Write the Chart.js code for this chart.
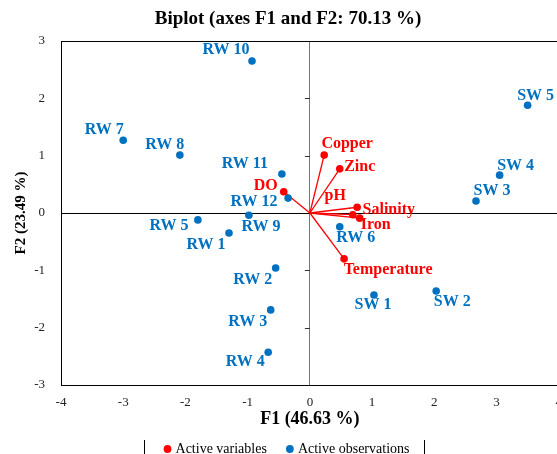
<!DOCTYPE html>
<html>
<head>
<meta charset="utf-8">
<script src="https://cdn.jsdelivr.net/npm/chart.js@4.4.0/dist/chart.umd.min.js"></script>
<style>
  html, body { margin: 0; padding: 0; background: #fff; overflow: hidden; }
  #wrap { width: 572px; height: 454px; }
</style>
</head>
<body>
<div id="wrap"><canvas id="biplot"></canvas></div>
<script>
// =================== data ===================
const obsNames = ['RW 1', 'RW 2', 'RW 3', 'RW 4', 'RW 5', 'RW 6', 'RW 7', 'RW 8', 'RW 9', 'RW 10', 'RW 11', 'RW 12',
                  'SW 1', 'SW 2', 'SW 3', 'SW 4', 'SW 5'];
const obsF1 = [-1.30, -0.55, -0.63, -0.67, -1.80, 0.48, -3.00, -2.09, -0.98, -0.93, -0.45, -0.35,
               1.03, 2.03, 2.67, 3.05, 3.50];
const obsF2 = [-0.35, -0.96, -1.69, -2.43, -0.12, -0.24, 1.27, 1.01, -0.04, 2.65, 0.68, 0.26,
               -1.43, -1.36, 0.21, 0.66, 1.88];

const varNames = ['Copper', 'Zinc', 'pH', 'Salinity', 'Iron', 'Temperature', 'DO'];
const varF1 = [0.23, 0.48, 0.76, 0.69, 0.80, 0.55, -0.42];
const varF2 = [1.01, 0.77, 0.10, -0.03, -0.09, -0.80, 0.37];

const xTicks = [-4, -3, -2, -1, 0, 1, 2, 3, 4];
const yTicks = [-3, -2, -1, 0, 1, 2, 3];

// where each label sits relative to its point (pixels)
const labelShift = {
    'RW 1': [-23, 12], 'RW 2': [-23, 12], 'RW 3': [-23, 12], 'RW 4': [-23, 10],
    'RW 5': [-29, 6], 'RW 6': [16, 11], 'RW 7': [-19, -10], 'RW 8': [-15, -10],
    'RW 9': [12, 12], 'RW 10': [-26, -11], 'RW 11': [-37, -10], 'RW 12': [-34, 4],
    'SW 1': [-1, 10], 'SW 2': [16, 11], 'SW 3': [16, -10], 'SW 4': [16, -9], 'SW 5': [8, -9],
    'Copper': [23, -11], 'Zinc': [20, -2], 'pH': [-22, -11], 'Salinity': [36, -5],
    'Iron': [16, 7], 'Temperature': [44, 11], 'DO': [-18, -6]
};
// =================================================================

const RED = '#ff0000';
const BLUE = '#0070c0';
const SERIF = "'Liberation Serif', 'Times New Roman', serif";

function toPoints(xs, ys) {
    return xs.map((x, i) => ({ x: x, y: ys[i] }));
}

// vectors from the origin, frame, small ticks on the zero axis, point labels
const biplotDecor = {
    id: 'biplotDecor',
    beforeDatasetsDraw(chart) {
        const { ctx, chartArea, scales } = chart;
        const xs = scales.x, ys = scales.y;
        const ox = xs.getPixelForValue(0), oy = ys.getPixelForValue(0);
        ctx.save();
        // top frame line
        ctx.strokeStyle = '#000';
        ctx.lineWidth = 1;
        ctx.beginPath();
        ctx.moveTo(chartArea.left, chartArea.top + 0.5);
        ctx.lineTo(chartArea.right, chartArea.top + 0.5);
        ctx.stroke();
        // small ticks on the vertical zero line
        ctx.strokeStyle = '#333';
        yTicks.forEach(v => {
            if (v === 0 || v === 3 || v === -3) return;
            const py = Math.round(ys.getPixelForValue(v)) + 0.5;
            ctx.beginPath();
            ctx.moveTo(ox - 5, py);
            ctx.lineTo(ox, py);
            ctx.stroke();
        });
        // variable vectors
        ctx.strokeStyle = RED;
        ctx.lineWidth = 1.3;
        varF1.forEach((v, i) => {
            ctx.beginPath();
            ctx.moveTo(ox, oy);
            ctx.lineTo(xs.getPixelForValue(v), ys.getPixelForValue(varF2[i]));
            ctx.stroke();
        });
        ctx.restore();
    },
    afterDatasetsDraw(chart) {
        const { ctx, scales } = chart;
        ctx.save();
        ctx.font = 'bold 16px ' + SERIF;
        ctx.textAlign = 'center';
        ctx.textBaseline = 'middle';
        const put = (name, x, y, color) => {
            const s = labelShift[name] || [0, -10];
            ctx.fillStyle = color;
            ctx.fillText(name, scales.x.getPixelForValue(x) + s[0], scales.y.getPixelForValue(y) + s[1]);
        };
        obsNames.forEach((n, i) => put(n, obsF1[i], obsF2[i], BLUE));
        varNames.forEach((n, i) => put(n, varF1[i], varF2[i], RED));
        ctx.restore();
    },
    afterDraw(chart) {
        // little vertical bars around the legend
        const lg = chart.legend;
        if (!lg || !lg.legendHitBoxes || !lg.legendHitBoxes.length) return;
        const boxes = lg.legendHitBoxes;
        const first = boxes[0], last = boxes[boxes.length - 1];
        const ctx = chart.ctx;
        ctx.save();
        ctx.strokeStyle = '#000';
        ctx.lineWidth = 1;
        const y0 = 440, y1 = 454;
        [Math.round(first.left - 23) + 0.5, Math.round(last.left + last.width + 15) + 0.5].forEach(x => {
            ctx.beginPath();
            ctx.moveTo(x, y0);
            ctx.lineTo(x, y1);
            ctx.stroke();
        });
        ctx.restore();
    }
};

function biplot() {
    const ctx = document.getElementById('biplot');
    const myChart = new Chart(ctx, {
        type: 'scatter',
        data: {
            datasets: [
                {
                    label: 'Active variables',
                    data: toPoints(varF1, varF2),
                    backgroundColor: RED,
                    borderColor: RED,
                    pointRadius: 3.8,
                    pointHoverRadius: 3.8,
                    borderWidth: 0
                },
                {
                    label: 'Active observations',
                    data: toPoints(obsF1, obsF2),
                    backgroundColor: BLUE,
                    borderColor: BLUE,
                    pointRadius: 3.8,
                    pointHoverRadius: 3.8,
                    borderWidth: 0
                }
            ]
        },
        options: {
            responsive: true,
            maintainAspectRatio: false,
            animation: false,
            layout: { padding: { left: 17, right: 13, top: 0, bottom: 0 } },
            plugins: {
                tooltip: { enabled: false },
                title: {
                    display: true,
                    text: 'Biplot (axes F1 and F2: 70.13 %)',
                    color: '#000',
                    font: { family: SERIF, size: 19, weight: 'bold' },
                    padding: { top: 8, bottom: 10.2 }
                },
                legend: {
                    display: true,
                    position: 'bottom',
                    maxHeight: 34,
                    labels: {
                        usePointStyle: true,
                        pointStyle: 'circle',
                        boxHeight: 5.5,
                        boxWidth: 2,
                        padding: 22,
                        color: '#000',
                        font: { family: SERIF, size: 14 }
                    }
                }
            },
            scales: {
                x: {
                    type: 'linear',
                    min: -4,
                    max: 4,
                    afterFit: (scale) => { scale.height = 35; },
                    afterBuildTicks: (scale) => { scale.ticks = xTicks.map(v => ({ value: v })); },
                    ticks: {
                        padding: 10,
                        color: '#222',
                        font: { family: SERIF, size: 13 },
                        maxRotation: 0
                    },
                    grid: {
                        drawTicks: false,
                        color: (c) => c.tick && c.tick.value === 0 ? '#777' : 'rgba(0,0,0,0)',
                        lineWidth: 1
                    },
                    border: { display: true, color: '#000', width: 1 },
                    title: {
                        display: true,
                        text: 'F1 (46.63 %)',
                        color: '#000',
                        font: { family: SERIF, size: 18, weight: 'bold' },
                        padding: { top: 0, bottom: -10 }
                    }
                },
                y: {
                    type: 'linear',
                    min: -3,
                    max: 3,
                    afterFit: (scale) => { scale.width = 44; },
                    afterBuildTicks: (scale) => { scale.ticks = yTicks.map(v => ({ value: v })); },
                    ticks: {
                        padding: 16,
                        color: '#222',
                        font: { family: SERIF, size: 13 }
                    },
                    grid: {
                        drawTicks: false,
                        color: (c) => c.tick && c.tick.value === 0 ? '#000' : 'rgba(0,0,0,0)',
                        lineWidth: 1
                    },
                    border: { display: true, color: '#000', width: 1 },
                    title: {
                        display: true,
                        text: 'F2 (23.49 %)',
                        color: '#000',
                        font: { family: SERIF, size: 15, weight: 'bold' },
                        padding: { top: -4.5, bottom: 0 }
                    }
                }
            }
        },
        plugins: [biplotDecor]
    });
    return myChart;
}

biplot();
</script>
</body>
</html>
